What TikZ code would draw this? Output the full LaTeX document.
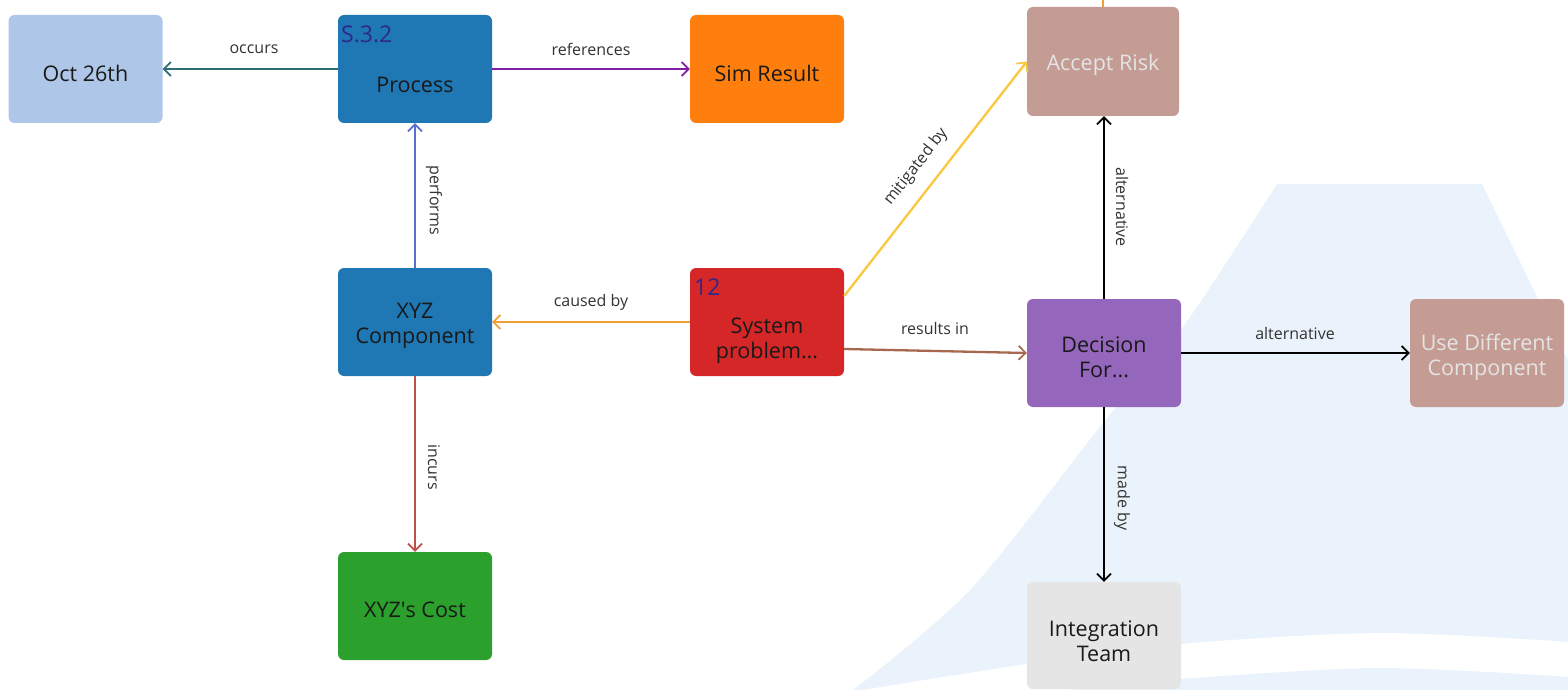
\documentclass[tikz,border=0pt]{standalone}
\usepackage{fontspec}
\setmainfont{Open Sans}
\usetikzlibrary{arrows.meta}
\definecolor{bgblue}{RGB}{234,243,251}
\definecolor{cOct}{RGB}{174,199,232}
\definecolor{cBlue}{RGB}{31,119,180}
\definecolor{cOrange}{RGB}{255,127,14}
\definecolor{cRose}{RGB}{196,156,148}
\definecolor{cRed}{RGB}{214,39,40}
\definecolor{cPurple}{RGB}{148,103,189}
\definecolor{cGreen}{RGB}{44,160,44}
\definecolor{cGray}{RGB}{229,229,229}
\definecolor{cBadge}{RGB}{45,40,140}
\definecolor{cLabel}{RGB}{51,51,51}
\definecolor{lTeal}{RGB}{45,110,115}
\definecolor{lPurple}{RGB}{125,30,165}
\definecolor{lBlue}{RGB}{90,110,210}
\definecolor{lOrange}{RGB}{240,160,50}
\definecolor{lRed}{RGB}{190,80,75}
\definecolor{lBrown}{RGB}{168,104,80}
\definecolor{lYellow}{RGB}{250,200,60}
\definecolor{lightText}{RGB}{228,228,228}
\begin{document}
\begin{tikzpicture}[x=1pt,y=-1pt,
  box/.style={rounded corners=6pt, minimum width=154pt, minimum height=108pt, inner sep=0pt},
  badge/.style={anchor=west, inner sep=0pt, text=cBadge, font=\fontsize{23}{26}\selectfont},
  txt/.style={inner sep=0pt, align=center, font=\fontsize{21.5}{25}\selectfont, text=black!90},
  elabel/.style={inner sep=1pt, text=cLabel, font=\fontsize{16}{19}\selectfont},
  conn/.style={line width=2.3pt, -{Straight Barb[length=7pt,width=14pt,line width=1.7pt]}}
]
\useasboundingbox (0,0) rectangle (1568,690);
% background
\fill[bgblue] plot[smooth] coordinates {(853,690) (970,590) (1103,423) (1183,327) (1277,184)} -- (1482,184) -- (1568,360) -- (1568,690) -- cycle;
\fill[white] plot[smooth] coordinates {(850,692) (1027,664) (1180,644) (1380,633) (1570,642)} -- (1570,677) -- plot[smooth] coordinates {(1570,677) (1380,668) (1180,679) (1050,692)} -- cycle;

% boxes
\node[box, fill=cOct] (oct) at (85.5,69) {};
\node[box, fill=cBlue] (proc) at (415,69) {};
\node[box, fill=cOrange] (sim) at (767,69) {};
\node[box, fill=cRose, minimum width=152pt, minimum height=109pt] (ar) at (1103,61.5) {};
\node[box, fill=cBlue] (xyz) at (415,322) {};
\node[box, fill=cRed] (sp) at (767,322) {};
\node[box, fill=cPurple] (dec) at (1104,353) {};
\node[box, fill=cRose] (udc) at (1487,353) {};
\node[box, fill=cGreen] (cost) at (415,606) {};
\node[box, fill=cGray, minimum height=107pt] (it) at (1104,635.5) {};

% box texts
\node[txt] (octT) at (85.5,73) {Oct 26th};
\node[txt] (procT) at (415,85) {Process};
\node[badge] (procB) at (341,34) {S.3.2};
\node[txt] (simT) at (767,73) {Sim Result};
\node[txt, text=lightText] (arT) at (1103,65) {Accept Risk};
\node[txt] (xyzT) at (415,326) {XYZ\\Component};
\node[txt] (spT) at (767,341) {System\\problem...};
\node[badge] (spB) at (694,287) {12};
\node[txt] (decT) at (1104,357) {Decision\\For...};
\node[txt, text=lightText] (udcT) at (1487,357) {Use Different\\Component};
\node[txt] (costT) at (415,610) {XYZ\textquotesingle s Cost};
\node[txt] (itT) at (1104,641) {Integration\\Team};

\coordinate (offtop) at (1103,-5);

% connectors
\draw[line width=2.3pt, lOrange] (ar.north) -- (offtop);
\draw[conn, lTeal] (proc.west) -- (oct.east);
\node[elabel] (lOcc) at (254,49) {occurs};
\draw[conn, lPurple] (proc.east) -- (sim.west);
\node[elabel] (lRef) at (591,49) {references};
\draw[conn, lBlue] (xyz.north) -- (proc.south);
\node[elabel, rotate=-90] (lPerf) at (434,200) {performs};
\draw[conn, lOrange] (sp.west) -- (xyz.east);
\node[elabel] (lCaus) at (591,302) {caused by};
\draw[conn, lRed] (xyz.south) -- (cost.north);
\node[elabel, rotate=-90] (lInc) at (434,467) {incurs};
\draw[conn, lBrown] ([yshift=-27pt]sp.east) -- (dec.west);
\node[elabel] (lRes) at (935,328) {results in};
\draw[conn, lYellow] ([yshift=26pt]sp.east) -- (ar.west);
\node[elabel, rotate=52] (lMit) at (916,167) {mitigated by};
\draw[conn, black] (dec.north) -- (dec.north |- ar.south);
\node[elabel, rotate=-90] (lAlt1) at (1122,207) {alternative};
\draw[conn, black] (dec.east) -- (udc.west);
\node[elabel] (lAlt2) at (1295,333) {alternative};
\draw[conn, black] (dec.south) -- (it.north);
\node[elabel, rotate=-90] (lMade) at (1122,498) {made by};
\end{tikzpicture}
\end{document}
